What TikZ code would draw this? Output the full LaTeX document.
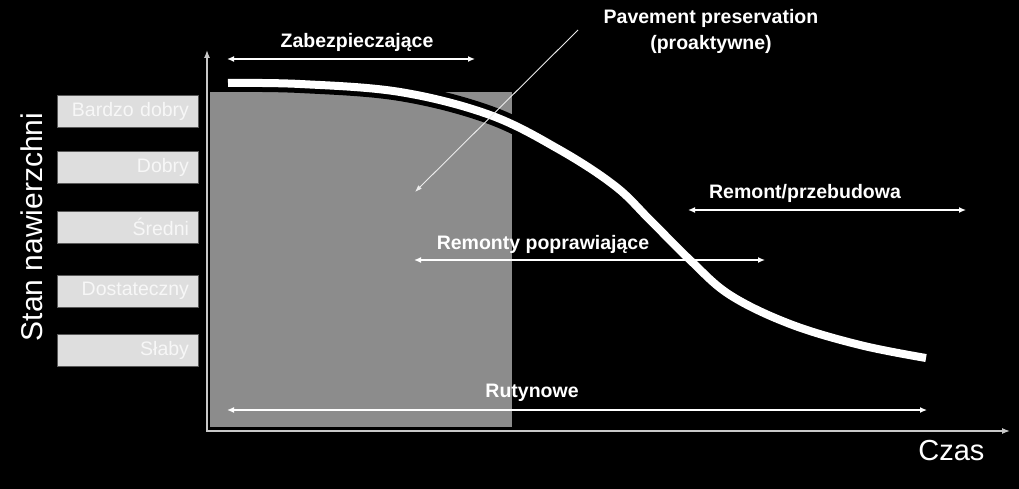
\documentclass[tikz,border=0pt]{standalone}
\usepackage{fontspec}
\setmainfont{Liberation Sans}
\usetikzlibrary{arrows.meta}
\definecolor{areagray}{HTML}{8C8C8C}
\definecolor{boxgray}{HTML}{DEDEDE}
\definecolor{boxtext}{HTML}{F7F7F7}
\definecolor{axisgray}{HTML}{C8C8C8}

\begin{document}
\begin{tikzpicture}[x=1pt, y=-1pt,
    span/.style={{Latex[length=7pt,width=6pt]}-{Latex[length=7pt,width=6pt]}, white, line width=1.3pt},
    lbl/.style={white, font=\fontsize{19.5}{26}\selectfont\bfseries},
    level/.style={fill=boxgray, draw=gray!70!black, line width=0.8pt, text=boxtext,
                  minimum width=141pt, minimum height=32pt, text width=123pt,
                  inner xsep=9pt, align=right, font=\fontsize{19.5}{21}\selectfont}]
    \fill[black] (0,0) rectangle (1019,489);
    \useasboundingbox (0,0) rectangle (1019,489);

    \fill[areagray] (210,92) rectangle (512,427);
    \draw[black, line width=18pt] plot[smooth, tension=0.6] coordinates {(228,83) (300,84) (400,92) (490,115) (560,150) (615,186) (650,220) (690,260) (730,295) (790,324) (860,345) (926,358)};
    \draw[white, line width=8pt] plot[smooth, tension=0.6] coordinates {(228,83) (300,84) (400,92) (490,115) (560,150) (615,186) (650,220) (690,260) (730,295) (790,324) (860,345) (926,358)};

    \coordinate (ytop) at (207,50);
    \coordinate (origin) at (207,431);
    \coordinate (xend) at (1010,431);
    \draw[axisgray, line width=1.3pt, {Latex[length=8pt,width=6pt]}-{Latex[length=8pt,width=6pt]}] (ytop) -- (origin) -- (xend);
    \node[white, anchor=north east, font=\fontsize{29}{32}\selectfont] (czas) at (988,437) {Czas};
    \node[white, rotate=90, font=\fontsize{30}{32}\selectfont] (stan) at (32,227) {Stan nawierzchni};

    \node[level] (bd) at (127.5,111) {Bardzo dobry};
    \node[level] (db) at (127.5,167) {Dobry};
    \node[level] (sr) at (127.5,227) {Średni};
    \node[level] (dst) at (127.5,291) {Dostateczny};
    \node[level] (sl) at (127.5,350) {Słaby};

    \coordinate (zabl) at (227,59);
    \coordinate (zabr) at (475,59);
    \draw[span] (zabl) -- (zabr);
    \node[lbl] (zab) at (357,42) {Zabezpieczające};

    \node[lbl, align=center] (pp) at (711,31) {Pavement preservation\\(proaktywne)};
    \coordinate (ppstart) at (578,30);
    \coordinate (ppend) at (415,192);
    \draw[white!85!gray, line width=0.9pt, -{Latex[length=7pt,width=5pt]}] (ppstart) -- (ppend);

    \coordinate (reml) at (688,210);
    \coordinate (remr) at (966,210);
    \draw[span] (reml) -- (remr);
    \node[lbl] (rem) at (805,193) {Remont/przebudowa};

    \coordinate (rpl) at (414,260);
    \coordinate (rpr) at (765,260);
    \draw[span] (rpl) -- (rpr);
    \node[lbl] (rp) at (543,244) {Remonty poprawiające};

    \coordinate (rutl) at (227,410);
    \coordinate (rutr) at (927,410);
    \draw[span] (rutl) -- (rutr);
    \node[lbl] (rut) at (532,393) {Rutynowe};
\end{tikzpicture}
\end{document}
